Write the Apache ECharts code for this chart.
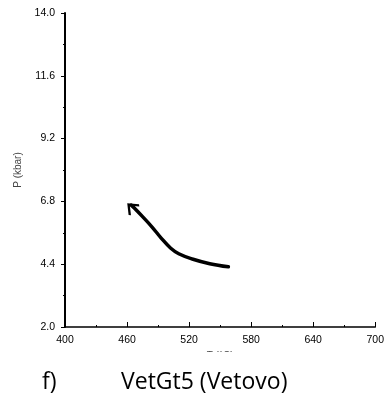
<!DOCTYPE html>
<html><head><meta charset="utf-8">
<script src="https://cdn.jsdelivr.net/npm/echarts@6/dist/echarts.min.js"></script>
<style>html,body{margin:0;padding:0;background:#fff}#c{width:387px;height:396px}</style>
</head><body><div id="c"></div>
<script>
// Data
const xTicks = [400, 460, 520, 580, 640, 700];
const yTicks = [2.0, 4.4, 6.8, 9.2, 11.6, 14.0];
const pathT = [558, 540, 523, 510, 502, 493, 484, 475, 467, 464];
const pathP = [4.30, 4.42, 4.60, 4.80, 5.02, 5.40, 5.83, 6.22, 6.55, 6.66];
const xName = 'T (°C)';
const yName = 'P (kbar)';
const panelLabel = 'f)';
const sampleName = 'VetGt5 (Vetovo)';

const data = pathT.map((t, i) => {
  const d = { value: [t, pathP[i]] };
  if (i === pathT.length - 1) {
    d.symbol = 'path://M0,0 L10,10 L8,12 L0,4 L-8,12 L-10,10 Z';
    d.symbolSize = [15, 11];
    d.symbolRotate = 46;
    d.symbolOffset = [0, 2];
    d.itemStyle = { color: '#000' };
  }
  return d;
});

const chart = echarts.init(document.getElementById('c'), null, { renderer: 'canvas' });
chart.setOption({
  animation: false,
  grid: { left: 65, right: 8, top: 13, bottom: 69, containLabel: false },
  xAxis: {
    type: 'value', min: 400, max: 700, interval: 60,
    name: xName, nameLocation: 'middle', nameGap: 24,
    nameTextStyle: { fontSize: 10, color: '#444', fontFamily: 'Liberation Sans' },
    axisLine: { show: true, lineStyle: { color: '#000', width: 1.6 } },
    axisTick: { show: true, inside: true, length: 5, lineStyle: { color: '#000', width: 1 } },
    minorTick: { show: true, splitNumber: 2, length: 2, lineStyle: { color: '#000' } },
    splitLine: { show: false },
    axisLabel: { fontSize: 10.5, color: '#000', fontFamily: 'Liberation Sans', margin: 8, formatter: v => String(v) }
  },
  yAxis: {
    type: 'value', min: 2.0, max: 14.0, interval: 2.4,
    name: yName, nameLocation: 'middle', nameGap: 40, nameRotate: 90,
    nameTextStyle: { fontSize: 10, color: '#444', fontFamily: 'Liberation Sans' },
    axisLine: { show: true, lineStyle: { color: '#000', width: 2 } },
    axisTick: { show: true, inside: false, length: 4, lineStyle: { color: '#000', width: 1 } },
    minorTick: { show: true, splitNumber: 2, length: 2, lineStyle: { color: '#000' } },
    splitLine: { show: false },
    axisLabel: { fontSize: 10.5, color: '#000', fontFamily: 'Liberation Sans', margin: 10, formatter: v => v.toFixed(1) }
  },
  series: [{
    type: 'line', smooth: 0.4, data: data,
    symbol: 'none', showSymbol: true,
    lineStyle: { color: '#000', width: 3.5, cap: 'round' },
    itemStyle: { color: '#000' }
  }],
  graphic: [
    { type: 'rect', z: 100, shape: { x: 150, y: 352, width: 150, height: 12 }, style: { fill: '#fff' } },
    { type: 'text', z: 101, style: { x: 42, y: 382, text: panelLabel, fontSize: 23, fontFamily: 'Open Sans', fill: '#000', verticalAlign: 'middle' } },
    { type: 'text', z: 101, style: { x: 121, y: 382, text: sampleName, fontSize: 23, fontFamily: 'Open Sans', fill: '#000', verticalAlign: 'middle' } }
  ]
});
</script></body></html>
